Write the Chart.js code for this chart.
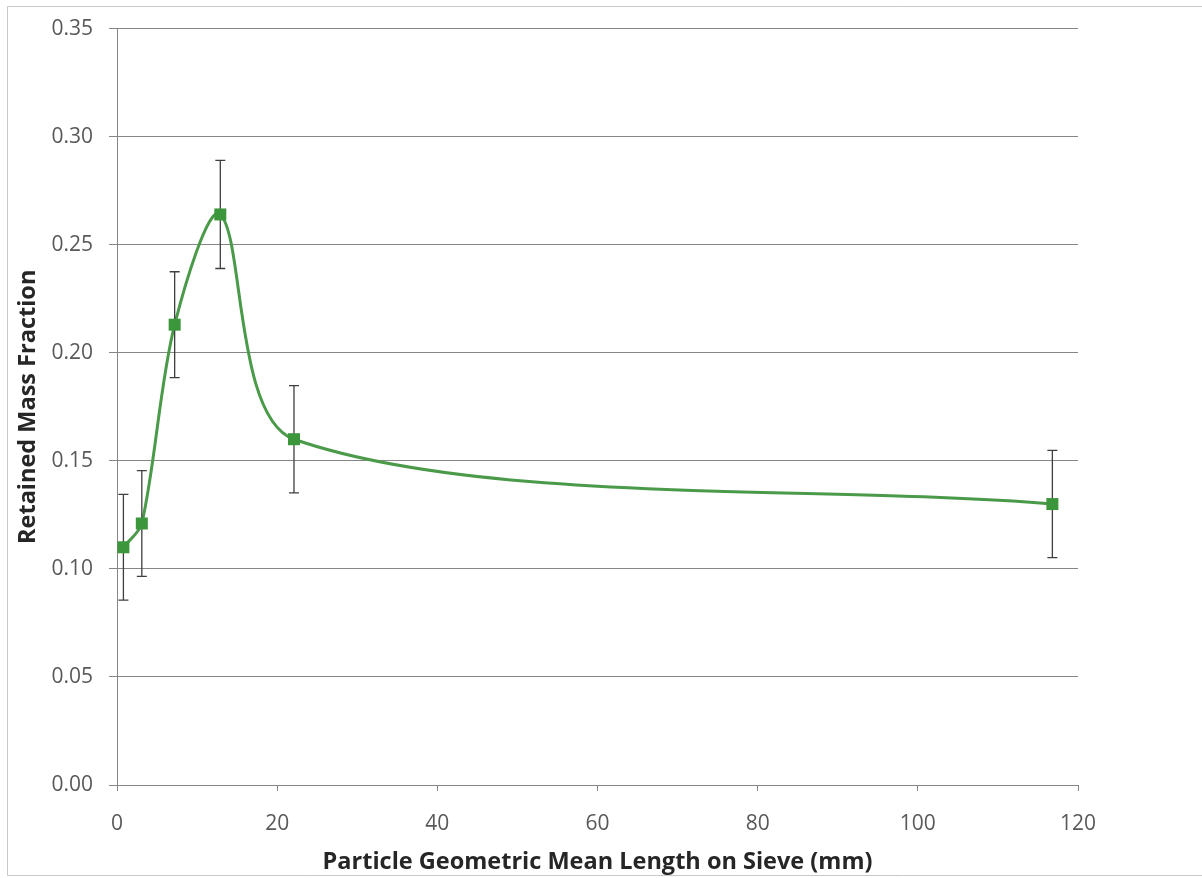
<!DOCTYPE html>
<html>
<head>
<meta charset="utf-8">
<script src="https://cdn.jsdelivr.net/npm/chart.js@4.4.1/dist/chart.umd.min.js"></script>
<style>
  html, body { margin: 0; padding: 0; background: #fff; }
  #wrap { width: 1202px; height: 878px; position: relative; }
</style>
</head>
<body>
<div id="wrap"><canvas id="chart" width="1202" height="878"></canvas></div>
<script>
// Particle geometric mean length (mm) vs retained mass fraction
const lengths = [0.8, 3.1, 7.2, 12.9, 22.1, 116.8];
const fractions = [0.110, 0.121, 0.213, 0.264, 0.160, 0.130];
const errors = [0.0245, 0.0245, 0.0245, 0.025, 0.0248, 0.0248];
const xTicks = [0, 20, 40, 60, 80, 100, 120];
const yTicks = [0, 0.05, 0.10, 0.15, 0.20, 0.25, 0.30, 0.35];

const points = lengths.map((x, i) => ({ x: x, y: fractions[i] }));

// background + outer frame (left, top, bottom edges)
const framePlugin = {
  id: 'frame',
  beforeDraw(chart) {
    const c = chart.ctx;
    c.save();
    c.fillStyle = '#fff';
    c.fillRect(0, 0, chart.width, chart.height);
    c.strokeStyle = '#c8c8c8';
    c.lineWidth = 1;
    c.beginPath();
    c.moveTo(chart.width, 6.5);
    c.lineTo(7.5, 6.5);
    c.lineTo(7.5, 875.5);
    c.lineTo(chart.width, 875.5);
    c.stroke();
    c.restore();
  }
};

// error bars drawn through the scales
const errorBars = {
  id: 'errorBars',
  afterDatasetsDraw(chart) {
    const c = chart.ctx;
    const xs = chart.scales.x, ys = chart.scales.y;
    c.save();
    c.strokeStyle = '#3f3f3f';
    c.lineWidth = 1.3;
    lengths.forEach((x, i) => {
      const px = xs.getPixelForValue(x);
      const top = ys.getPixelForValue(fractions[i] + errors[i]);
      const bot = ys.getPixelForValue(fractions[i] - errors[i]);
      c.beginPath();
      c.moveTo(px, top); c.lineTo(px, bot);
      c.moveTo(px - 5, top); c.lineTo(px + 5, top);
      c.moveTo(px - 5, bot); c.lineTo(px + 5, bot);
      c.stroke();
    });
    c.restore();
  }
};

// markers on top of the error bars
const markersOnTop = {
  id: 'markersOnTop',
  afterDraw(chart) {
    const c = chart.ctx;
    const xs = chart.scales.x, ys = chart.scales.y;
    c.save();
    c.fillStyle = '#3c963c';
    lengths.forEach((x, i) => {
      const px = xs.getPixelForValue(x);
      const py = ys.getPixelForValue(fractions[i]);
      c.fillRect(px - 6, py - 6, 12, 12);
    });
    c.restore();
  }
};

new Chart(document.getElementById('chart'), {
  type: 'scatter',
  data: {
    datasets: [{
      data: points,
      showLine: true,
      borderColor: '#4a9a4a',
      borderWidth: 3,
      tension: 0.3,
      pointRadius: 0
    }]
  },
  options: {
    responsive: false,
    animation: false,
    layout: { padding: { top: 24, right: 124, left: 0, bottom: 0 } },
    plugins: {
      legend: { display: false },
      tooltip: { enabled: false }
    },
    scales: {
      x: {
        type: 'linear',
        min: 0, max: 120,
        afterBuildTicks: s => { s.ticks = xTicks.map(v => ({ value: v })); },
        afterFit: s => { s.height = 93; },
        grid: {
          display: true,
          drawOnChartArea: false,
          drawTicks: true,
          tickLength: 6,
          color: '#868686'
        },
        border: { color: '#868686', width: 1 },
        ticks: {
          color: '#595959',
          font: { family: 'Open Sans', size: 21 },
          padding: 20
        },
        title: {
          display: true,
          text: 'Particle Geometric Mean Length on Sieve (mm)',
          color: '#262626',
          font: { family: 'Open Sans', size: 23.5, weight: 'bold' },
          padding: { top: 0, bottom: 2 }
        }
      },
      y: {
        min: 0, max: 0.35,
        afterBuildTicks: s => { s.ticks = yTicks.map(v => ({ value: v })); },
        afterFit: s => { s.width = 117; },
        grid: {
          color: '#868686',
          tickLength: 8,
          drawTicks: true
        },
        border: { color: '#868686', width: 1 },
        ticks: {
          color: '#595959',
          font: { family: 'Open Sans', size: 21 },
          padding: 16,
          callback: v => v.toFixed(2)
        },
        title: {
          display: true,
          text: 'Retained Mass Fraction',
          color: '#262626',
          font: { family: 'Open Sans', size: 23.5, weight: 'bold' },
          padding: { top: 14, bottom: 0 }
        }
      }
    }
  },
  plugins: [framePlugin, errorBars, markersOnTop]
});
</script>
</body>
</html>
